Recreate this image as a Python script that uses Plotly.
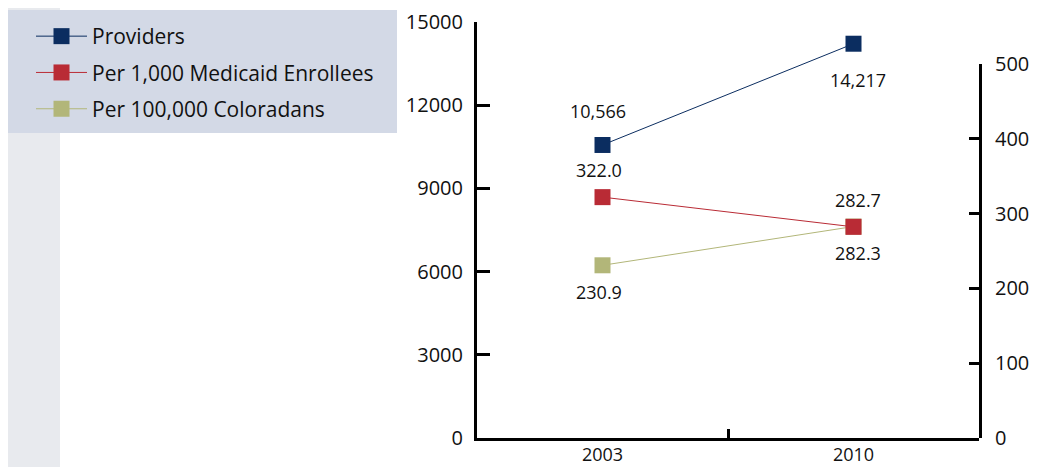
import plotly.graph_objects as go

years = ["2003", "2010"]
providers = [10566, 14217]
per_1000_medicaid = [322.0, 282.3]
per_100000_coloradans = [230.9, 282.7]

provider_labels = ["10,566", "14,217"]
medicaid_labels = ["322.0", "282.3"]
colorado_labels = ["230.9", "282.7"]

left_ticks = [0, 3000, 6000, 9000, 12000, 15000]
right_ticks = [0, 100, 200, 300, 400, 500]

NAVY = "#0b2d60"
RED = "#b92b35"
OLIVE = "#b2b679"
FONT = "Open Sans"
TXT = "#111111"

W, H = 1039, 467
OFF = 8  # page body margin offset
PLOT_LEFT, PLOT_RIGHT, PLOT_TOP, PLOT_BOTTOM = 477, 979, 22, 438  # page pixels
PW, PH = PLOT_RIGHT - PLOT_LEFT, PLOT_BOTTOM - PLOT_TOP
L = PLOT_LEFT - OFF
T = PLOT_TOP - OFF
R = W - L - PW
B = H - T - PH


def px_x(p):
    return (p - PLOT_LEFT) / PW


def px_y(p):
    return (PLOT_BOTTOM - p) / PH


fig = go.Figure()

fig.add_trace(go.Scatter(
    x=years, y=providers, name="Providers", mode="lines+markers",
    line=dict(color=NAVY, width=1), marker=dict(symbol="square", size=16, color=NAVY),
    xaxis="x", yaxis="y", legendgroup="a", legendrank=1))
fig.add_trace(go.Scatter(
    x=years, y=per_100000_coloradans, name="Per 100,000 Coloradans", mode="lines+markers",
    line=dict(color=OLIVE, width=1), marker=dict(symbol="square", size=16, color=OLIVE),
    xaxis="x", yaxis="y2", legendgroup="c", legendrank=3))
fig.add_trace(go.Scatter(
    x=years, y=per_1000_medicaid, name="Per 1,000 Medicaid Enrollees", mode="lines+markers",
    line=dict(color=RED, width=1), marker=dict(symbol="square", size=16, color=RED),
    xaxis="x", yaxis="y2", legendgroup="b", legendrank=2))

ann = []
for i, (v, t) in enumerate(zip(providers, provider_labels)):
    ann.append(dict(x=i, y=v, xref="x", yref="y", text=t, showarrow=False,
                    yshift=34 if i == 0 else -36, xshift=-5 if i == 0 else 4))
for i, (v, t) in enumerate(zip(per_1000_medicaid, medicaid_labels)):
    ann.append(dict(x=i, y=v, xref="x", yref="y2", text=t, showarrow=False,
                    yshift=27 if i == 0 else -26, xshift=-4 if i == 0 else 4))
for i, (v, t) in enumerate(zip(per_100000_coloradans, colorado_labels)):
    ann.append(dict(x=i, y=v, xref="x", yref="y2", text=t, showarrow=False,
                    yshift=-27 if i == 0 else 27, xshift=-4 if i == 0 else 4))
for a in ann:
    a["font"] = dict(family=FONT, size=18, color=TXT)

shapes = [
    dict(type="rect", xref="paper", yref="paper", x0=px_x(0), x1=px_x(60), y0=px_y(H + 10), y1=px_y(0),
         fillcolor="#e8eaee", line=dict(width=0), layer="below"),
    dict(type="rect", xref="paper", yref="paper", x0=px_x(5), x1=px_x(397), y0=px_y(133), y1=px_y(10),
         fillcolor="#d3d9e6", line=dict(width=0), layer="below"),
]

axis_font = dict(family=FONT, size=20, color=TXT)

fig.update_layout(
    width=W, height=H,
    margin=dict(l=L, r=R, t=T, b=B, autoexpand=False),
    paper_bgcolor="white", plot_bgcolor="rgba(0,0,0,0)",
    font=dict(family=FONT, size=18, color=TXT),
    showlegend=True,
    legend=dict(x=px_x(31), y=px_y(16), xanchor="left", yanchor="top",
                bgcolor="rgba(0,0,0,0)", font=dict(family=FONT, size=21, color=TXT),
                tracegroupgap=6, traceorder="grouped", itemwidth=51),
    xaxis=dict(type="category", range=[-0.5, 1.5], showline=True, linecolor="black", linewidth=3,
               ticks="inside", ticklen=9, tickwidth=3, tickcolor="black", tickson="boundaries",
               tickfont=dict(family=FONT, size=18, color=TXT), ticklabelstandoff=-2,
               showgrid=False, zeroline=False, anchor="y", automargin=False),
    yaxis=dict(range=[0, 15000], tickvals=left_ticks, showline=True, linecolor="black", linewidth=3,
               ticks="inside", ticklen=13, tickwidth=3, tickcolor="black", tickfont=axis_font,
               ticklabelstandoff=7, showgrid=False, zeroline=False, tickformat="d", anchor="x",
               domain=[0, 1], automargin=False),
    yaxis2=dict(range=[0, 500], tickvals=right_ticks, side="right", anchor="x",
                domain=[0, px_y(64)], showline=True, linecolor="black", linewidth=3,
                ticks="inside", ticklen=10, tickwidth=3, tickcolor="black", tickfont=axis_font,
                ticklabelstandoff=9, showgrid=False, zeroline=False, automargin=False),
    annotations=ann,
    shapes=shapes,
)

fig.write_html("out.html")
